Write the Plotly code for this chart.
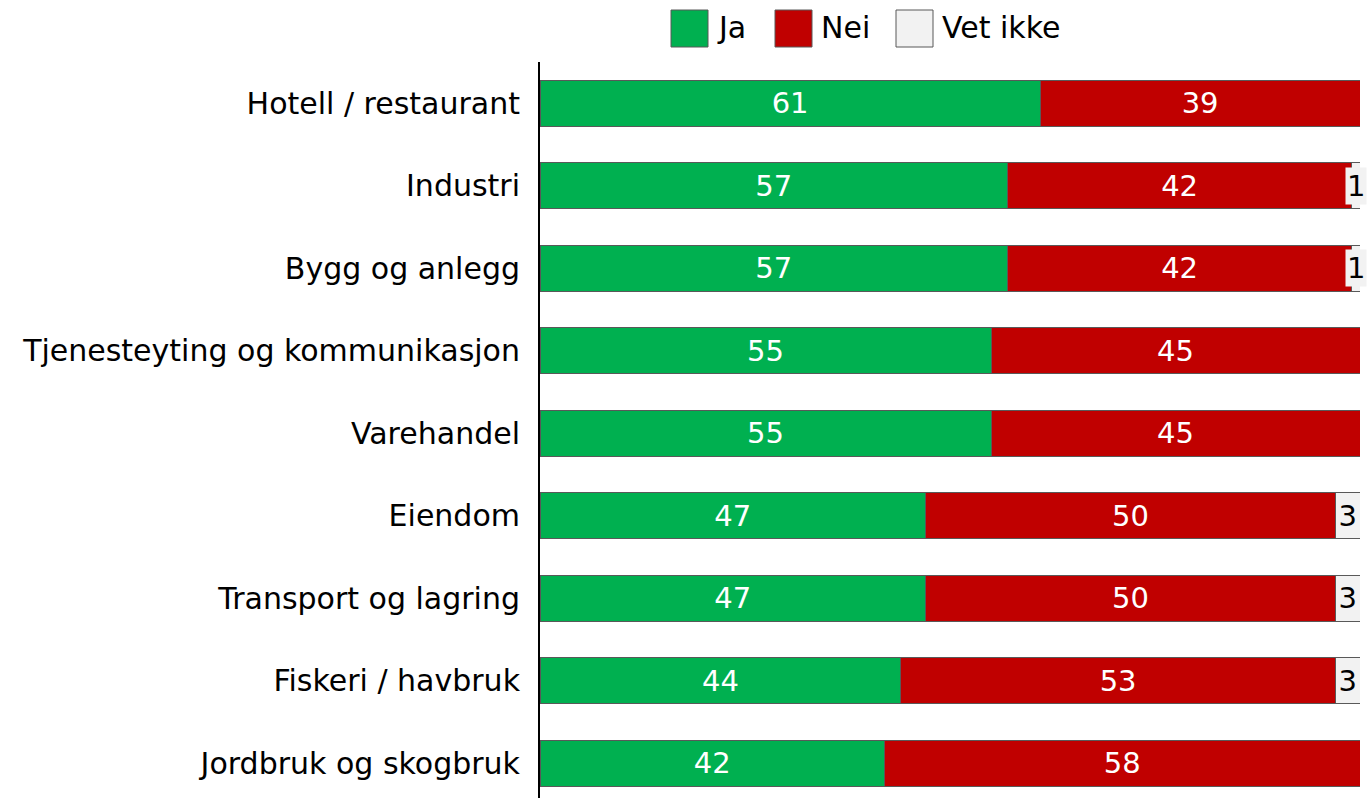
import plotly.graph_objects as go

categories = ["Hotell / restaurant", "Industri", "Bygg og anlegg",
              "Tjenesteyting og kommunikasjon", "Varehandel", "Eiendom",
              "Transport og lagring", "Fiskeri / havbruk", "Jordbruk og skogbruk"]
ja = [61, 57, 57, 55, 55, 47, 47, 44, 42]
nei = [39, 42, 42, 45, 45, 50, 50, 53, 58]
vet_ikke = [0, 1, 1, 0, 0, 3, 3, 3, 0]
series_names = ["Ja", "Nei", "Vet ikke"]
series_colors = ["#00B050", "#C00000", "#F2F2F2"]
text_colors = ["white", "white", "black"]

FONT = "DejaVu Sans"
FS = 30
SMALL = 2  # segments narrower than this get an overflowing label
fig = go.Figure()
for name, vals, col, tcol in zip(series_names, [ja, nei, vet_ikke], series_colors, text_colors):
    fig.add_trace(go.Bar(
        y=categories, x=vals, name=name, orientation="h",
        marker=dict(color=col, line=dict(color="#595959", width=1)),
        text=[str(v) if v >= SMALL else "" for v in vals],
        textposition="inside", insidetextanchor="middle",
        textfont=dict(color=tcol, size=FS - 1, family=FONT),
        constraintext="none", cliponaxis=False,
        showlegend=False,
    ))

plot_left, plot_right = 540, 1360
plot_top, plot_bottom = 62, 798

def px(p):
    return (p - plot_left) / (plot_right - plot_left)

def py(p):
    return (plot_bottom - p) / (plot_bottom - plot_top)

# custom legend
leg_x = [671, 775, 896]
shapes = []
annotations = []
for i, (name, col) in enumerate(zip(series_names, series_colors)):
    shapes.append(dict(type="rect", xref="paper", yref="paper",
                       x0=px(leg_x[i]), x1=px(leg_x[i] + 37), y0=py(47), y1=py(10),
                       fillcolor=col, line=dict(color="#595959", width=1)))
    annotations.append(dict(xref="paper", yref="paper", x=px(leg_x[i] + 44),
                            y=py(28), text=name, showarrow=False, xanchor="left",
                            yanchor="middle", font=dict(size=FS, family=FONT, color="black")))

# labels for tiny "Vet ikke" segments (overflow the bar)
for cat, a, b, v in zip(categories, ja, nei, vet_ikke):
    if 0 < v < SMALL:
        annotations.append(dict(xref="x", yref="y", x=a + b + v / 2, y=cat,
                                text=str(v), showarrow=False, xanchor="center",
                                yanchor="middle", bgcolor="#F2F2F2", borderpad=1,
                                font=dict(size=FS - 1, family=FONT, color="black")))

fig.update_layout(
    width=1368, height=798,
    barmode="stack", bargap=0.44,
    margin=dict(l=plot_left, r=1368 - plot_right, t=plot_top, b=0),
    plot_bgcolor="white", paper_bgcolor="white",
    font=dict(family=FONT, size=FS, color="black"),
    uniformtext=dict(minsize=FS - 1, mode="show"),
    xaxis=dict(range=[0, 100], visible=False, fixedrange=True),
    yaxis=dict(categoryorder="array", categoryarray=categories,
               range=[8.42, -0.5], showline=True, linecolor="black", linewidth=2,
               ticks="", ticklabelstandoff=12, showgrid=False,
               tickfont=dict(size=FS, family=FONT, color="black")),
    shapes=shapes, annotations=annotations,
)
fig.write_html("out.html", config={"displayModeBar": False},
               post_script="document.body.style.margin='0';document.body.style.overflow='hidden';")
